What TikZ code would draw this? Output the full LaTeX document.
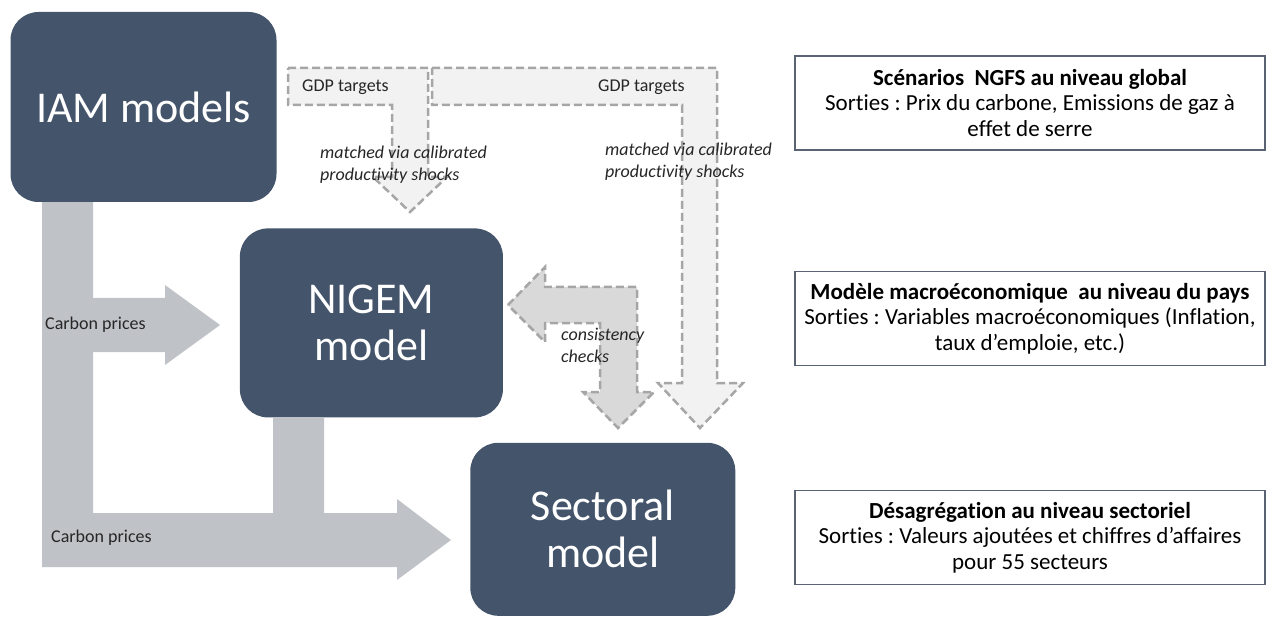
\documentclass[tikz,border=0pt]{standalone}
\usepackage{fontspec}
\setmainfont{Carlito}[Ligatures=NoCommon]
\usetikzlibrary{positioning}

\definecolor{modelblue}{RGB}{68,84,106}
\definecolor{carbongray}{RGB}{191,194,199}
\definecolor{gdpfill}{RGB}{242,242,242}
\definecolor{checkfill}{RGB}{217,217,217}
\definecolor{dashgray}{RGB}{166,166,166}
\definecolor{boxedge}{RGB}{89,99,115}
\definecolor{labeltext}{RGB}{38,38,38}

\frenchspacing

\begin{document}
\begin{tikzpicture}[
    x=1pt, y=-1pt, % pixel-like units, y pointing down
    model/.style={rectangle, rounded corners=28pt, fill=modelblue, text=white, minimum width=266pt, minimum height=190pt, align=center, font=\fontsize{44}{47}\selectfont},
    outbox/.style={draw=boxedge, line width=1.3pt, fill=white, minimum width=470pt, minimum height=94pt, inner xsep=0pt, align=center, font=\fontsize{23}{25.5}\selectfont},
    carbon/.style={fill=carbongray},
    gdp/.style={draw=dashgray, line width=2.5pt, dash pattern=on 8pt off 4pt, fill=gdpfill}, % dashed block arrows
    checkarrow/.style={gdp, fill=checkfill},
    lbl/.style={inner sep=0pt, text=labeltext, font=\fontsize{18}{22}\selectfont},
    note/.style={lbl, align=left, font=\fontsize{18}{22}\selectfont\itshape}
]
\useasboundingbox (0,0) rectangle (1266,620);

% Models
\node[model] (iam) at (143.5,107) {IAM models};
\node[model, below right=26pt and -37pt of iam, minimum width=263pt, minimum height=189pt] (nigem) {NIGEM\\model};
\node[model, below right=25pt and -33pt of nigem, minimum width=265pt, minimum height=173pt] (sector) {Sectoral\\model};

% Carbon price arrows
\path[carbon] (iam.south -| 42,0) -- (iam.south -| 93,0) -- (93,513) -- (273,513) -- (273,567) -- (42,567) -- cycle;
\path[carbon] (93,298) -- (165,298) -- (165,285) -- (220,325) -- (165,365) -- (165,352) -- (93,352) -- cycle;
\path[carbon] (nigem.south -| 273,0) -- (nigem.south -| 324,0) -- (324,513) -- (397,513) -- (397,499) -- (451,540) -- (397,580) -- (397,567) -- (273,567) -- cycle;

% GDP target arrows
\path[gdp] (432,68) -- (717,68) -- (717,383) -- (743,383) -- (700,428) -- (658,383) -- (682,383) -- (682,105) -- (432,105) -- cycle;
\path[gdp] (288,68) -- (428,68) -- (428,177) -- (447,177) -- (410,212) -- (373,177) -- (392,177) -- (392,105) -- (288,105) -- cycle;

% Consistency checks
\path[checkarrow] (508,305) -- (545,267) -- (545,287) -- (637,287) -- (637,392) -- (654,392) -- (618,428) -- (583,392) -- (600,392) -- (600,323) -- (545,323) -- (545,342) -- cycle;

% Arrow labels
\node[lbl, anchor=base west] (gdpa) at (302,92) {GDP targets};
\node[lbl, anchor=base west] (gdpb) at (598,92) {GDP targets};
\node[note, anchor=west] (matcha) at (320,165) {matched via calibrated\\productivity shocks};
\node[note, anchor=west] (matchb) at (605,162) {matched via calibrated\\productivity shocks};
\node[note, anchor=west] (consist) at (561,345) {consistency\\checks};
\node[lbl, anchor=west] (carba) at (45,325) {Carbon prices};
\node[lbl, anchor=west] (carbb) at (51,538) {Carbon prices};

% Output boxes
\node[outbox] (ngfs) at (1030,103) {\textbf{Scénarios~ NGFS au niveau global}\\Sorties : Prix du carbone, Emissions de gaz à\\effet de serre};
\node[outbox, below=120pt of ngfs] (macro) {\textbf{Modèle macroéconomique~ au niveau du pays}\\Sorties : Variables macroéconomiques (Inflation,\\taux d’emploie, etc.)};
\node[outbox, below=124pt of macro] (secto) {\textbf{Désagrégation au niveau sectoriel}\\Sorties : Valeurs ajoutées et chiffres d’affaires\\pour 55 secteurs};

\end{tikzpicture}
\end{document}
